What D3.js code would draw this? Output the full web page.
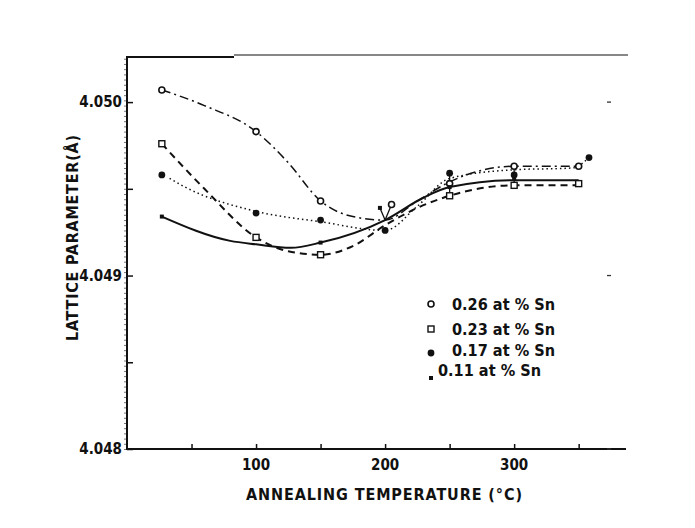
<!DOCTYPE html>
<html>
<head>
<meta charset="utf-8">
<script src="https://cdn.jsdelivr.net/npm/d3@7"></script>
<style>
  body { margin: 0; background: #fff; }
  text { font-family: "DejaVu Sans Condensed", "DejaVu Sans", sans-serif; fill: #111; }
</style>
</head>
<body>
<svg id="chart" width="695" height="528"></svg>
<script>
// legend / series labels
const seriesNames = ["0.26 at % Sn", "0.23 at % Sn", "0.17 at % Sn", "0.11 at % Sn"];

// measured points [temperature °C, lattice parameter Å]
const pts026 = [[27, 4.05007], [100, 4.04983], [150, 4.04943], [205, 4.04941], [250, 4.04953], [300, 4.04963], [350, 4.04963]];
const pts023 = [[27, 4.04976], [100, 4.04922], [150, 4.04912], [250, 4.04946], [300, 4.04952], [350, 4.04953]];
const pts017 = [[27, 4.04958], [100, 4.04936], [150, 4.04932], [200, 4.04926], [250, 4.04959], [300, 4.04958], [358, 4.04968]];
const pts011 = [[27, 4.04934], [150, 4.04919], [196, 4.04939], [250, 4.04951], [300, 4.04956]];

// hand drawn curves through the points
const curve026 = [[27, 4.05007], [60, 4.04998], [100, 4.04983], [125, 4.04965], [150, 4.04943], [175, 4.04934], [200, 4.04932], [225, 4.04943], [250, 4.04954], [300, 4.04963], [350, 4.04963]];
const curve023 = [[27, 4.04976], [60, 4.04950], [100, 4.04922], [125, 4.04914], [150, 4.04912], [175, 4.04917], [200, 4.04929], [225, 4.04939], [250, 4.04946], [300, 4.04952], [350, 4.04952]];
const curve017 = [[33, 4.04956], [45, 4.04951], [100, 4.04937], [150, 4.04931], [200, 4.04926], [225, 4.04940], [250, 4.04956], [300, 4.04961], [345, 4.04962], [358, 4.04968]];
const curve011 = [[27, 4.04934], [80, 4.04920], [100, 4.04918], [127, 4.04916], [150, 4.04919], [200, 4.04932], [230, 4.04945], [250, 4.04951], [300, 4.04955], [350, 4.04955]];

// short leader strokes at 200 °C and the vertical links at 250 / 300 °C
const leaders = [[[205, 4.04941], [200, 4.04932]], [[196, 4.04939], [200, 4.04932]], [[250, 4.04959], [250, 4.04946]], [[300, 4.04963], [300, 4.04952]]];

const xTicks = [50, 100, 150, 200, 250, 300, 350];
const xLabels = [100, 200, 300];
const yTicks = [4.048, 4.0485, 4.049, 4.0495, 4.050];
const yLabels = [4.048, 4.049, 4.050];

const svg = d3.select("#chart");
const x = d3.scaleLinear().domain([0, 389]).range([127, 629]);
const y = d3.scaleLinear().domain([4.048, 4.05026]).range([449, 57]);

// frame
svg.append("line").attr("x1", 127).attr("x2", 127).attr("y1", 57).attr("y2", 450)
  .attr("stroke", "#111").attr("stroke-width", 2);
svg.append("line").attr("x1", 126).attr("x2", 626).attr("y1", 449).attr("y2", 449)
  .attr("stroke", "#111").attr("stroke-width", 2);
svg.append("line").attr("x1", 126).attr("x2", 234).attr("y1", 57).attr("y2", 57)
  .attr("stroke", "#111").attr("stroke-width", 2.2);
svg.append("line").attr("x1", 234).attr("x2", 628).attr("y1", 55).attr("y2", 55)
  .attr("stroke", "#111").attr("stroke-width", 1.2);

// minor hairy ticks on the left of the y axis
svg.append("g").attr("transform", "translate(126,0)")
  .call(d3.axisLeft(y).tickValues(d3.range(4.048, 4.05026, 0.00003)).tickSize(2).tickFormat(""))
  .call(g => g.select(".domain").remove())
  .selectAll("line").attr("stroke", "#777");

// y ticks (inside)
const yAxis = svg.append("g").attr("transform", "translate(127,0)")
  .call(d3.axisRight(y).tickValues(yTicks).tickSize(6).tickFormat(""));
yAxis.select(".domain").remove();
yAxis.selectAll("line").attr("stroke", "#111").attr("stroke-width", 1.5);

svg.append("g").selectAll("text").data(yLabels).join("text")
  .attr("x", 122).attr("y", d => y(d) + 5)
  .attr("text-anchor", "end")
  .style("font-size", "15px").style("font-weight", "bold")
  .text(d => d3.format(".3f")(d));

// x ticks (inside)
const xAxis = svg.append("g").attr("transform", "translate(0,449)")
  .call(d3.axisTop(x).tickValues(xTicks).tickSize(5).tickFormat(""));
xAxis.select(".domain").remove();
xAxis.selectAll("line").attr("stroke", "#111").attr("stroke-width", 1.5);

svg.append("g").selectAll("text").data(xLabels).join("text")
  .attr("x", d => x(d)).attr("y", 470)
  .attr("text-anchor", "middle")
  .style("font-size", "15px").style("font-weight", "bold")
  .text(d => d);

// axis titles
svg.append("text").attr("x", 384).attr("y", 500).attr("text-anchor", "middle")
  .attr("textLength", 276).attr("lengthAdjust", "spacing")
  .style("font-size", "16px").style("font-weight", "600")
  .text("ANNEALING TEMPERATURE (°C)");
svg.append("text").attr("transform", "translate(78,238) rotate(-90)").attr("text-anchor", "middle")
  .attr("textLength", 206).attr("lengthAdjust", "spacing")
  .style("font-size", "16px").style("font-weight", "600")
  .text("LATTICE PARAMETER(Å)");

// right side stray tick marks
svg.append("g").selectAll("line").data(yLabels).join("line")
  .attr("x1", 607).attr("x2", 611).attr("y1", d => y(d)).attr("y2", d => y(d))
  .attr("stroke", "#333").attr("stroke-width", 1.3);

// curves
const line = d3.line().x(d => x(d[0])).y(d => y(d[1])).curve(d3.curveMonotoneX);
const curves = [
  { data: curve026, dash: "9,4,2,4", w: 1.5 },
  { data: curve023, dash: "7,5", w: 2 },
  { data: curve017, dash: "1.5,3", w: 1.5 },
  { data: curve011, dash: null, w: 2 }
];
svg.append("g").selectAll("path").data(curves).join("path")
  .attr("d", d => line(d.data))
  .attr("fill", "none").attr("stroke", "#111")
  .attr("stroke-width", d => d.w)
  .attr("stroke-dasharray", d => d.dash);

svg.append("g").selectAll("line").data(leaders).join("line")
  .attr("x1", d => x(d[0][0])).attr("y1", d => y(d[0][1]))
  .attr("x2", d => x(d[1][0])).attr("y2", d => y(d[1][1]))
  .attr("stroke", "#111").attr("stroke-width", 1.3);

// markers
function drawMarker(g, kind) {
  if (kind === 0) g.append("circle").attr("r", 3).attr("fill", "#fff").attr("stroke", "#111").attr("stroke-width", 1.6);
  if (kind === 1) g.append("rect").attr("x", -3).attr("y", -3).attr("width", 6).attr("height", 6).attr("fill", "#fff").attr("stroke", "#111").attr("stroke-width", 1.4);
  if (kind === 2) g.append("circle").attr("r", 3.4).attr("fill", "#111");
  if (kind === 3) g.append("rect").attr("x", -2).attr("y", -2).attr("width", 4).attr("height", 4).attr("fill", "#111");
}
[pts026, pts023, pts017, pts011].forEach((pts, k) => {
  svg.append("g").selectAll("g").data(pts).join("g")
    .attr("transform", d => `translate(${x(d[0])},${y(d[1])})`)
    .each(function() { drawMarker(d3.select(this), k); });
});

// legend
const legMarkerY = [304, 329, 353, 378];
const legTextX = [452, 452, 452, 438];
const legTextY = [310, 335, 356, 376];
seriesNames.forEach((name, k) => {
  drawMarker(svg.append("g").attr("transform", `translate(431,${legMarkerY[k]})`), k);
  svg.append("text").attr("x", legTextX[k]).attr("y", legTextY[k])
    .attr("textLength", 103).attr("lengthAdjust", "spacingAndGlyphs")
    .style("font-size", "16px").style("font-weight", "600")
    .text(name);
});
</script>
</body>
</html>
